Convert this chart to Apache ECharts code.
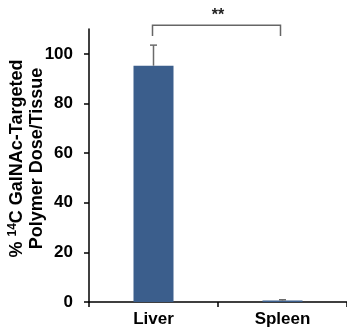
<!DOCTYPE html>
<html><head><meta charset="utf-8">
<script src="https://cdn.jsdelivr.net/npm/echarts@6/dist/echarts.min.js"></script>
<style>html,body{margin:0;padding:0;background:#fff}#c{width:347px;height:332px}</style>
</head><body><div id="c"></div>
<script>
var categories = ['Liver', 'Spleen'];
var values = [95.2, 0.6];
var errors = [8.3, 0.3];
var yTicks = [0, 20, 40, 60, 80, 100];
var bracket = { from: 'Liver', to: 'Spleen', y: 111.5, legBottom: 107.2, label: '**', labelY: 115.5 };

var chart = echarts.init(document.getElementById('c'), null, { renderer: 'canvas' });
var font = '"Liberation Sans", Arial, sans-serif';
chart.setOption({
  animation: false,
  grid: { left: 89, right: 0, top: 29, bottom: 30, containLabel: false, outerBoundsMode: 'none' },
  xAxis: {
    type: 'category', data: categories,
    axisLine: { lineStyle: { color: '#000', width: 1.5 } },
    axisTick: { show: true, alignWithLabel: false, length: 5, lineStyle: { color: '#000', width: 1.5 } },
    axisLabel: { color: '#000', fontFamily: font, fontWeight: 'bold', fontSize: 17, margin: 9 }
  },
  yAxis: {
    type: 'value', min: 0, max: 110, interval: 10,
    splitLine: { show: false },
    axisLine: { show: true, lineStyle: { color: '#000', width: 1.5 } },
    axisTick: { show: true, length: 5, customValues: yTicks, lineStyle: { color: '#000', width: 1.5 } },
    axisLabel: { show: false },
    name: '{a|% }{s|14}{a|C GalNAc-Targeted}\n{a|Polymer Dose/Tissue}',
    nameLocation: 'middle', nameGap: 42, nameRotate: 90, nameMoveOverlap: false,
    nameTextStyle: {
      color: '#000', fontFamily: font, fontWeight: 'bold', fontSize: 18, lineHeight: 20,
      padding: [0, 0, 0, 14],
      rich: {
        a: { color: '#000', fontFamily: font, fontWeight: 'bold', fontSize: 18, lineHeight: 20 },
        s: { color: '#000', fontFamily: font, fontWeight: 'bold', fontSize: 12, lineHeight: 20, verticalAlign: 'top', padding: [0, 0, 6, 0] }
      }
    }
  },
  series: [
    {
      type: 'bar', data: values, barWidth: 40,
      itemStyle: { color: '#3B5E8C' }
    },
    {
      // y-axis tick labels, placed by the value scale
      type: 'custom', clip: false, z: 5,
      data: yTicks.map(function (v) { return [0, v]; }),
      renderItem: function (params, api) {
        var p = api.coord([0, api.value(1)]);
        return { type: 'text', style: { x: params.coordSys.x - 16, y: p[1], text: String(api.value(1)), fill: '#000', font: 'bold 17px ' + font, align: 'right', verticalAlign: 'middle' } };
      }
    },
    {
      type: 'custom', clip: false, z: 5,
      data: values.map(function (v, i) { return [i, v, v + errors[i]]; }),
      renderItem: function (params, api) {
        var x = api.value(0), lo = api.coord([x, api.value(1)]), hi = api.coord([x, api.value(2)]);
        var hw = 3.5;
        return { type: 'group', children: [
          { type: 'line', shape: { x1: lo[0], y1: lo[1], x2: hi[0], y2: hi[1] }, style: { stroke: '#6b6b6b', lineWidth: 1.5 } },
          { type: 'line', shape: { x1: hi[0] - hw, y1: hi[1], x2: hi[0] + hw, y2: hi[1] }, style: { stroke: '#6b6b6b', lineWidth: 1.5 } }
        ]};
      }
    },
    {
      type: 'custom', clip: false, z: 5,
      data: [[categories.indexOf(bracket.from), categories.indexOf(bracket.to), bracket.y, bracket.legBottom, bracket.labelY]],
      renderItem: function (params, api) {
        var a = api.coord([api.value(0), api.value(2)]);
        var b = api.coord([api.value(1), api.value(2)]);
        var aL = api.coord([api.value(0), api.value(3)]);
        var bL = api.coord([api.value(1), api.value(3)]);
        var ty = api.coord([api.value(0), api.value(4)])[1];
        var tx = (a[0] + b[0]) / 2;
        return { type: 'group', children: [
          { type: 'polyline', shape: { points: [[aL[0] - 1, aL[1]], [a[0] - 1, a[1]], [b[0] - 2, b[1]], [bL[0] - 2, bL[1]]] }, style: { stroke: '#666', lineWidth: 1.5, fill: null } },
          { type: 'text', style: { x: tx, y: ty, text: bracket.label, fill: '#222', font: 'bold 16px ' + font, align: 'center', verticalAlign: 'middle' } }
        ]};
      }
    }
  ]
});
</script></body></html>
